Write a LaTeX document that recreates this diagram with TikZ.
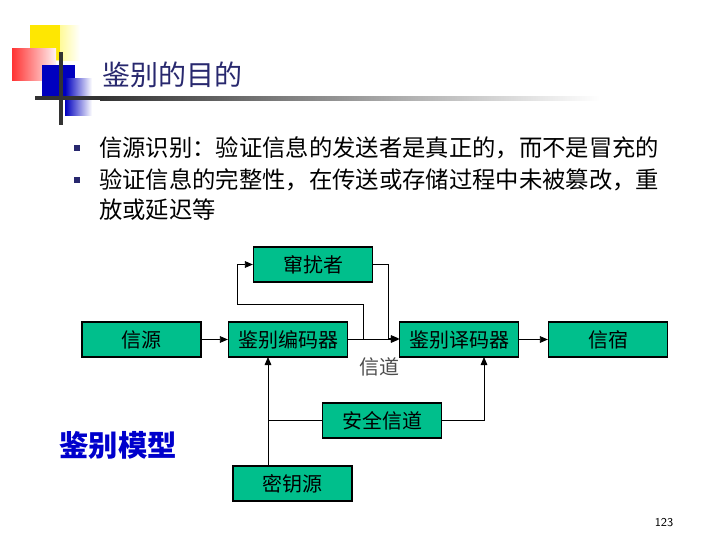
\documentclass[tikz,border=0pt]{standalone}
\usepackage{fontspec}
\newfontfamily\cjk{Noto Sans CJK SC}
\usetikzlibrary{arrows.meta}
\definecolor{boxg}{RGB}{0,191,140}
\definecolor{ttl}{RGB}{40,40,110}
\begin{document}
\begin{tikzpicture}[x=0.75pt,y=-0.75pt,
  blk/.style={draw=black,line width=1.2pt,fill=boxg,minimum width=89pt,minimum height=26pt,inner sep=0pt,font=\cjk\fontsize{15}{15}\selectfont},
  con/.style={line width=0.6pt},
  arr/.style={con,-{Triangle[length=6pt,width=5pt]}}]
\useasboundingbox (0,0) rectangle (720,540);
% decoration
\fill[left color=yellow!90!orange,right color=white] (30,25) rectangle (80,60);
\fill[yellow!90!orange] (30,25) rectangle (60,60);
\fill[left color=red!80,right color=red!5] (12,48) rectangle (56,80);
\fill[blue!75!black] (42,65) rectangle (75,100);
\fill[left color=blue!75!black,right color=white] (65,78) rectangle (92,115);
\fill[black!80] (59,52) rectangle (63,125);
\fill[black!80] (35,96) rectangle (100,100);
\fill[left color=black!80,right color=white] (100,96) rectangle (600,100);
\node[anchor=west,text=ttl,font=\cjk\fontsize{21}{21}\selectfont] (title) at (98,75) {鉴别的目的};
% bullets
\fill[ttl] (74,145) rectangle (80,151);
\fill[ttl] (74,177) rectangle (80,183);
\node[anchor=west,inner sep=0pt,font=\cjk\fontsize{17.5}{17.5}\selectfont] (b1) at (99,148) {信源识别：验证信息的发送者是真正的，而不是冒充的};
\node[anchor=north west,align=left,font=\cjk\fontsize{17.5}{22.5}\selectfont,inner sep=0pt] (b2) at (99,168) {验证信息的完整性，在传送或存储过程中未被篡改，重\\放或延迟等};
% blocks
\node[blk] (cr) at (313,264.5) {窜扰者};
\node[blk] (src) at (141.5,339.5) {信源};
\node[blk] (enc) at (288,339.5) {鉴别编码器};
\node[blk] (dec) at (459,339.5) {鉴别译码器};
\node[blk] (dst) at (608,339.5) {信宿};
\node[blk] (sec) at (382,420.5) {安全信道};
\node[blk] (key) at (292.5,483.5) {密钥源};
\node[font=\cjk\fontsize{15}{15}\selectfont,text=black!70] (ch) at (379,367) {信道};
\node[text=blue!80!black,font=\cjk\bfseries\fontsize{22}{22}\selectfont] (model) at (118,445) {鉴别模型};
\node[font=\sffamily\fontsize{9}{9}\selectfont] (pg) at (664,523) {123};
% connectors
\draw[arr] (src.east) -- (enc.west);
\draw[arr] (enc.east) -- (dec.west);
\draw[arr] (dec.east) -- (dst.east -| dst.west);
\draw[arr] (enc.east) -- ++(15,0) |- (237,304) |- (cr.west);
\draw[arr] (cr.east) -- (388,264.5) |- ([yshift=0.75pt]dec.west);
\draw[arr] (key.north -| 268,0) -- (268,357);
\draw[con] (sec.west) -- (268,420.5);
\draw[arr] (sec.east) -| (484,357);
\end{tikzpicture}
\end{document}
